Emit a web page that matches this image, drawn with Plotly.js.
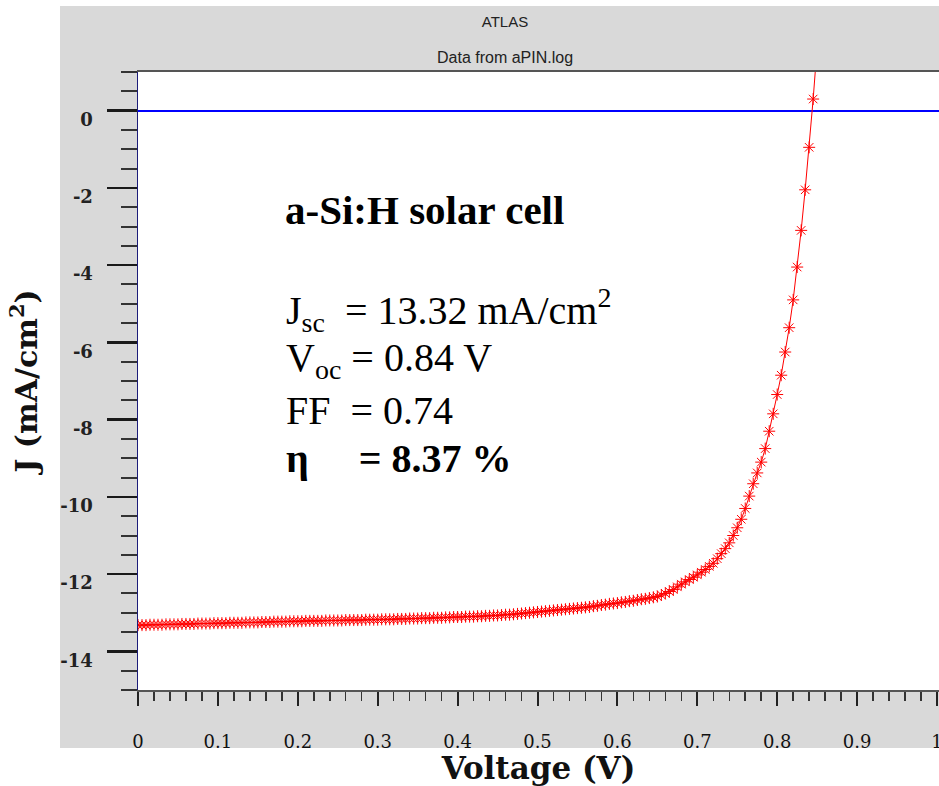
<!DOCTYPE html>
<html>
<head>
<meta charset="utf-8">
<script src="https://cdn.plot.ly/plotly-3.0.1.min.js"></script>
<style>html,body{margin:0;padding:0;background:#fff;}#chart{width:939px;height:786px;}</style>
</head>
<body>
<div id="chart"></div>
<script>
// Voltage (V) sample points
const voltage = [
0.000,0.005,0.010,0.015,0.020,0.025,0.030,0.035,0.040,0.045,
0.050,0.055,0.060,0.065,0.070,0.075,0.080,0.085,0.090,0.095,
0.100,0.105,0.110,0.115,0.120,0.125,0.130,0.135,0.140,0.145,
0.150,0.155,0.160,0.165,0.170,0.175,0.180,0.185,0.190,0.195,
0.200,0.205,0.210,0.215,0.220,0.225,0.230,0.235,0.240,0.245,
0.250,0.255,0.260,0.265,0.270,0.275,0.280,0.285,0.290,0.295,
0.300,0.305,0.310,0.315,0.320,0.325,0.330,0.335,0.340,0.345,
0.350,0.355,0.360,0.365,0.370,0.375,0.380,0.385,0.390,0.395,
0.400,0.405,0.410,0.415,0.420,0.425,0.430,0.435,0.440,0.445,
0.450,0.455,0.460,0.465,0.470,0.475,0.480,0.485,0.490,0.495,
0.500,0.505,0.510,0.515,0.520,0.525,0.530,0.535,0.540,0.545,
0.550,0.555,0.560,0.565,0.570,0.575,0.580,0.585,0.590,0.595,
0.600,0.605,0.610,0.615,0.620,0.625,0.630,0.635,0.640,0.645,
0.650,0.655,0.660,0.665,0.670,0.675,0.680,0.685,0.690,0.695,
0.700,0.705,0.710,0.715,0.720,0.725,0.730,0.735,0.740,0.745,
0.750,0.755,0.760,0.765,0.770,0.775,0.780,0.785,0.790,0.795,
0.800,0.805,0.810,0.815,0.820,0.825,0.830,0.835,0.840,0.845,
0.850
];
// Current density J (mA/cm^2)
const currentDensity = [
-13.32,-13.32,-13.32,-13.31,-13.31,-13.31,-13.31,-13.30,-13.30,-13.30,
-13.30,-13.29,-13.29,-13.29,-13.29,-13.28,-13.28,-13.28,-13.28,-13.27,
-13.27,-13.27,-13.27,-13.26,-13.26,-13.26,-13.26,-13.25,-13.25,-13.25,
-13.25,-13.24,-13.24,-13.24,-13.23,-13.23,-13.23,-13.23,-13.22,-13.22,
-13.22,-13.22,-13.21,-13.21,-13.21,-13.21,-13.21,-13.20,-13.20,-13.20,
-13.20,-13.20,-13.19,-13.19,-13.19,-13.19,-13.19,-13.18,-13.18,-13.18,
-13.18,-13.17,-13.17,-13.17,-13.17,-13.16,-13.16,-13.16,-13.15,-13.15,
-13.15,-13.14,-13.14,-13.14,-13.13,-13.13,-13.13,-13.12,-13.12,-13.11,
-13.11,-13.11,-13.10,-13.10,-13.10,-13.09,-13.09,-13.08,-13.08,-13.07,
-13.07,-13.06,-13.05,-13.05,-13.04,-13.03,-13.02,-13.01,-13.00,-12.99,
-12.98,-12.97,-12.96,-12.95,-12.94,-12.93,-12.92,-12.91,-12.90,-12.89,
-12.88,-12.87,-12.86,-12.85,-12.83,-12.82,-12.80,-12.79,-12.77,-12.76,
-12.75,-12.73,-12.72,-12.70,-12.69,-12.67,-12.65,-12.64,-12.62,-12.60,
-12.58,-12.54,-12.50,-12.45,-12.40,-12.33,-12.26,-12.20,-12.14,-12.08,
-12.02,-11.95,-11.88,-11.80,-11.72,-11.60,-11.47,-11.34,-11.19,-11.00,
-10.80,-10.58,-10.30,-9.98,-9.66,-9.38,-9.10,-8.75,-8.30,-7.85,
-7.35,-6.85,-6.25,-5.62,-4.90,-4.05,-3.10,-2.05,-0.95,0.30,
1.65
];
const xTickVals = [0,0.1,0.2,0.3,0.4,0.5,0.6,0.7,0.8,0.9,1];
const xTickText = ["0","0.1","0.2","0.3","0.4","0.5","0.6","0.7","0.8","0.9","1"];
const yTickVals = [0,-2,-4,-6,-8,-10,-12,-14];
const yTickText = ["0","-2","-4","-6","-8","-10","-12","-14"];
const infoLines = [
  "J<sub>sc</sub>\u00a0\u00a0= 13.32 mA/cm<sup>2</sup>",
  "V<sub>oc</sub> = 0.84 V",
  "FF\u00a0 = 0.74",
  "<b>\u03b7\u00a0\u00a0\u00a0\u00a0\u00a0= 8.37 %</b>"
];
const headline = "<b>a-Si:H solar cell</b>";

const W = 939, H = 786;
const L = 138, R = 0, T = 72, B = 96;
const pw = W - L - R, ph = H - T - B;
function px2paperX(p){ return (p - L) / pw; }
function px2paperY(p){ return (H - B - p) / ph; }

const trace = {
  x: voltage, y: currentDensity,
  type: 'scatter', mode: 'lines+markers',
  line: {color: '#ff0000', width: 1},
  marker: {symbol: 'asterisk-open', size: 10, color: '#ff0000',
           line: {color: 'rgba(255,0,0,0.85)', width: 1}},
  cliponaxis: true, showlegend: false, hoverinfo: 'x+y'
};

const annFontSerif = 'Liberation Serif, Times New Roman, serif';
const annotations = [
  {xref:'paper', yref:'paper', x:px2paperX(283), y:px2paperY(210), xanchor:'left', yanchor:'middle',
   text: headline, showarrow:false, font:{family:annFontSerif, size:41, color:'#000'}},
  {xref:'paper', yref:'paper', x:px2paperX(505), y:px2paperY(57), xanchor:'center', yanchor:'middle',
   text:'Data from aPIN.log', showarrow:false, font:{family:'Liberation Sans, Arial, sans-serif', size:16, color:'#222'}}
];
const infoY = [310, 360, 410, 459];
infoLines.forEach((t, i) => {
  annotations.push({xref:'paper', yref:'paper', x:px2paperX(284), y:px2paperY(infoY[i]),
    xanchor:'left', yanchor:'middle', text:t, showarrow:false,
    font:{family:annFontSerif, size:40, color:'#000'}});
});

const layout = {
  width: W, height: H,
  margin: {l: L, r: R, t: T, b: B, pad: 0},
  paper_bgcolor: '#ffffff', plot_bgcolor: '#ffffff',
  showlegend: false,
  title: {text: 'ATLAS', x: 505 / W, xref: 'container', xanchor: 'center',
          y: 1 - 22 / H, yref: 'container', yanchor: 'middle',
          font: {family: 'Liberation Sans, Arial, sans-serif', size: 15, color: '#222'}},
  xaxis: {
    range: [0, 1.0025], fixedrange: true,
    tickmode: 'array', tickvals: xTickVals, ticktext: xTickText,
    ticks: 'outside', ticklen: 14, tickwidth: 2, tickcolor: '#222',
    minor: {tickmode: 'linear', tick0: 0, dtick: 0.02, ticks: 'outside', ticklen: 9, tickwidth: 1.5, tickcolor: '#333', showgrid: false},
    showgrid: false, zeroline: false,
    showline: true, linecolor: '#555', linewidth: 2, mirror: true,
    ticklabelstandoff: 20, ticklabeloverflow: 'allow',
    tickfont: {family: 'DejaVu Serif, serif', size: 18, color: '#111'},
    title: {text: '<b>Voltage (V)</b>', standoff: 0,
            font: {family: 'DejaVu Serif, serif', size: 31, color: '#111'}}
  },
  yaxis: {
    range: [-15, 1], fixedrange: true,
    tickmode: 'array', tickvals: yTickVals, ticktext: yTickText,
    ticks: 'outside', ticklen: 30, tickwidth: 2.5, tickcolor: '#1a1a1a',
    minor: {tickmode: 'linear', tick0: 0, dtick: 0.5, ticks: 'outside', ticklen: 16, tickwidth: 2, tickcolor: '#333', showgrid: false},
    showgrid: false,
    zeroline: true, zerolinecolor: '#0000ff', zerolinewidth: 2,
    showline: true, linecolor: '#1c1c7a', linewidth: 1.5, mirror: false,
    ticklabelstandoff: 10, ticklabelshift: 9,
    tickfont: {family: 'DejaVu Serif, serif', size: 18, color: '#222', weight: 'bold'},
    title: {text: '<b>J (mA/cm<sup>2</sup>)</b>', standoff: 14,
            font: {family: 'DejaVu Serif, serif', size: 30, color: '#111'}}
  },
  shapes: [
    {type:'rect', xref:'paper', yref:'paper', layer:'below',
     x0: px2paperX(60), x1: px2paperX(945), y0: px2paperY(748), y1: px2paperY(6),
     fillcolor:'#d9d9d9', line:{width:0}},
    {type:'rect', xref:'paper', yref:'paper', layer:'below',
     x0: 0, x1: 1, y0: 0, y1: 1, fillcolor:'#ffffff', line:{width:0}}
  ],
  annotations: annotations
};

Plotly.newPlot('chart', [trace], layout, {displayModeBar: false, staticPlot: true});
</script>
</body>
</html>
